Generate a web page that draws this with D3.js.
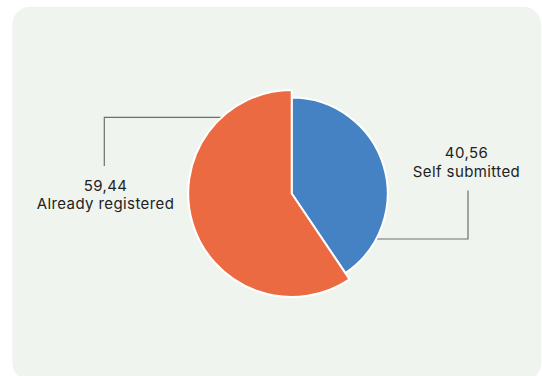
<!DOCTYPE html>
<html>
<head>
<meta charset="utf-8">
<script src="https://cdn.jsdelivr.net/npm/d3@7"></script>
<style>
  html, body { margin: 0; padding: 0; background: #ffffff; }
  svg { display: block; }
</style>
</head>
<body>
<div id="chart"></div>
<script>
// data
const categories = ["Self submitted", "Already registered"];
const shares = [40.56, 59.44];

const width = 542, height = 376;
const cx = 291.7, cy = 193.5;

// looks of each slice (blue one drawn a bit smaller)
const sliceColors = ["#4482c3", "#eb6a41"];
const sliceRadius = [96, 103.5];

// where the leader lines leave the pie, and where the labels sit
const leaders = [
    {y: 239, elbowX: 468, endY: 190.5, textX: 466.5, textY: 158.3},
    {y: 117.3, elbowX: 104.3, endY: 166, textX: 105.5, textY: 190.7}
];

const nf = d3.formatLocale({decimal: ",", thousands: ".", grouping: [3], currency: ["", ""]}).format(".2f");

let svg = d3.select("#chart")
    .append("svg")
    .attr("width", width)
    .attr("height", height);

svg.append("rect")
    .attr("x", 12.3)
    .attr("y", 6.7)
    .attr("width", 529)
    .attr("height", 374)
    .attr("rx", 18)
    .attr("fill", "#eff4ee");

let data = categories.map((c, i) => ({name: c, value: shares[i], i: i}));

let pie = d3.pie()
    .sort(null)
    .value(d => d.value);

let arcs = pie(data);

let g = svg.append("g")
    .attr("transform", "translate(" + cx + "," + cy + ")");

// leader lines go under the slices
arcs.forEach(function (a, i) {
    let L = leaders[i];
    let r = sliceRadius[i];
    let dy = L.y - cy;
    let dx = Math.sqrt(Math.max(r * r - dy * dy, 0));
    let side = L.elbowX > cx ? 1 : -1;
    let x0 = cx + side * (dx - 2);
    svg.insert("path", "g")
        .attr("d", "M" + x0 + "," + L.y + "H" + L.elbowX + "V" + L.endY)
        .attr("fill", "none")
        .attr("stroke", "#6e6e6e")
        .attr("stroke-width", 1.2);
});

g.selectAll("path")
    .data(arcs)
    .enter()
    .append("path")
    .attr("d", d => d3.arc().innerRadius(0).outerRadius(sliceRadius[d.data.i])(d))
    .attr("fill", d => sliceColors[d.data.i])
    .attr("stroke", "#ffffff")
    .attr("stroke-width", 2)
    .attr("stroke-linejoin", "miter");

let labels = svg.append("g")
    .attr("font-family", "Inter, 'Noto Sans', sans-serif")
    .attr("font-size", 15)
    .attr("letter-spacing", 0.4)
    .attr("fill", "#222222")
    .attr("text-anchor", "middle");

arcs.forEach(function (a, i) {
    let L = leaders[i];
    labels.append("text")
        .attr("x", L.textX)
        .attr("y", L.textY)
        .text(nf(a.data.value));
    labels.append("text")
        .attr("x", L.textX)
        .attr("y", L.textY + 18.4)
        .text(a.data.name);
});
</script>
</body>
</html>
